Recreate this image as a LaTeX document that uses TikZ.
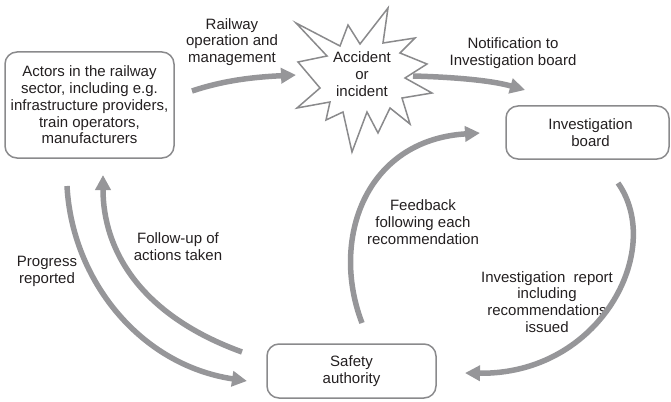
\documentclass[tikz,border=0pt]{standalone}
\usepackage{fontspec}
\setmainfont{Liberation Sans}
\usetikzlibrary{arrows.meta}
\definecolor{arrowgray}{RGB}{150,150,153}
\definecolor{boxgray}{RGB}{138,138,140}
\definecolor{txt}{RGB}{35,31,32}
\begin{document}
\begin{tikzpicture}[x=1pt,y=-1pt,
  box/.style={draw=boxgray, line width=1.5pt, rounded corners=12pt, align=center,
    font=\fontsize{15}{16.8}\selectfont, text=txt, inner sep=0pt},
  lbl/.style={align=center, font=\fontsize{15}{16.8}\selectfont, text=txt, inner sep=0pt},
  flow/.style={draw=arrowgray, line width=5.5pt, -{Triangle[length=15pt,width=15pt]}},
  burst/.style={draw=boxgray, line width=1.5pt, line join=miter, fill=white},
]
\useasboundingbox (0,0) rectangle (671,401);

% boxes
\node[box, minimum width=169pt, minimum height=106pt] (actors) at (89.5,105)
  {Actors in the railway\\sector, including e.g.\\infrastructure providers,\\train operators,\\manufacturers};
\node[box, minimum width=163pt, minimum height=53pt] (board) at (587.5,132.5)
  {\hspace*{6pt}Investigation\\\hspace*{6pt}board};
\node[box, minimum width=169pt, minimum height=54pt] (safety) at (351.5,371)
  {Safety\\authority};

% starburst
\draw[burst] (296,23) -- (340,46) -- (348,25) -- (360,44) -- (388,8) -- (383,43)
  -- (415,38) -- (400,53) -- (427,64) -- (405,78) -- (432,93) -- (402,98)
  -- (410,124) -- (390,108) -- (378,133) -- (367,112) -- (352,152) -- (343,112)
  -- (326,120) -- (330,102) -- (297,108) -- (320,88) -- (298,62) -- (327,56) -- cycle;
\node[lbl] (star) at (362,74) {Accident\\or\\incident};

% labels
\node[lbl] (lrail) at (232,42) {Railway\\operation and\\management};
\node[lbl] (lnotif) at (513,53.5) {Notification to\\Investigation board};
\node[lbl] (lfeed) at (423,222) {Feedback\\following each\\recommendation};
\node[lbl] (lreport) at (547,302) {Investigation\ \ report\\including\\recommendations\\issued};
\node[lbl] (lfollow) at (178,246.5) {Follow-up of\\actions taken};
\node[lbl] (lprog) at (47,271.5) {Progress\\reported};

% connector end points
\coordinate (r0) at (192,91);   \coordinate (r1) at (296,75);
\coordinate (n0) at (413,76);   \coordinate (n1) at (525,90);
\coordinate (i0) at (618,183);  \coordinate (i1) at (465,373);
\coordinate (f0) at (362,323);  \coordinate (f1) at (480,133);
\coordinate (p0) at (67,186);   \coordinate (p1) at (247,381);
\coordinate (u0) at (242,352);  \coordinate (u1) at (103,175);

% connectors
\draw[flow] (r0) .. controls (225,80) and (255,77) .. (r1);
\draw[flow] (n0) .. controls (450,77) and (490,80) .. (n1);
\draw[flow] (i0) .. controls (665,250) and (600,375) .. (i1);
\draw[flow] (f0) .. controls (330,240) and (365,140) .. (f1);
\draw[flow] (p0) .. controls (72,280) and (140,365) .. (p1);
\draw[flow] (u0) .. controls (140,315) and (103,250) .. (u1);
\end{tikzpicture}
\end{document}
